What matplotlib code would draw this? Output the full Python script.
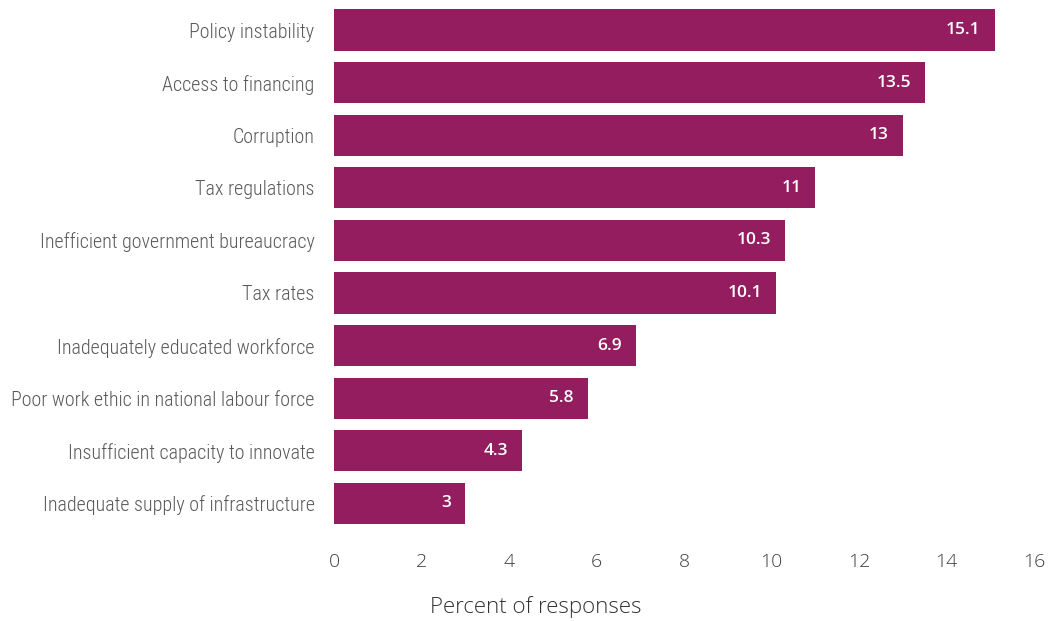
import matplotlib
matplotlib.use("Agg")
import matplotlib.pyplot as plt
from matplotlib import font_manager

categories = [
    "Policy instability",
    "Access to financing",
    "Corruption",
    "Tax regulations",
    "Inefficient government bureaucracy",
    "Tax rates",
    "Inadequately educated workforce",
    "Poor work ethic in national labour force",
    "Insufficient capacity to innovate",
    "Inadequate supply of infrastructure",
]
values = [15.1, 13.5, 13, 11, 10.3, 10.1, 6.9, 5.8, 4.3, 3]
value_labels = ["15.1", "13.5", "13", "11", "10.3", "10.1", "6.9", "5.8", "4.3", "3"]
xticks = [0, 2, 4, 6, 8, 10, 12, 14, 16]

BAR = "#931D5E"
GRAY = "#58595B"

avail = {f.name for f in font_manager.fontManager.ttflist}
cond_candidates = ["Roboto Condensed", "Liberation Sans Narrow", "DejaVu Sans Condensed", "Roboto", "DejaVu Sans"]
cond = [c for c in cond_candidates if c in avail] or ["DejaVu Sans"]
sans = ["Open Sans", "DejaVu Sans"]

W, H = 1051, 621
fig = plt.figure(figsize=(W / 100, H / 100), dpi=100)
left, right = 334 / W, 1034 / W
bottom, top = (H - 529.7) / H, (H - 3.7) / H
ax = fig.add_axes([left, bottom, right - left, top - bottom])

y = list(range(len(categories)))
ax.barh(y, values, height=0.78, color=BAR)
ax.set_xlim(0, 16)
ax.set_ylim(len(categories) - 0.5, -0.5)

for yi, v, lab in zip(y, values, value_labels):
    ax.annotate(lab, xy=(v, yi), xytext=(-10, 0), textcoords="offset points",
                ha="right", va="center", color="white", fontsize=12.5,
                family=sans, fontweight="semibold")

ax.set_yticks(y)
ax.set_yticklabels(categories, fontsize=14.4, color=GRAY,
                   family=cond, fontweight="light", fontstretch="condensed")
ax.set_xticks(xticks)
ax.set_xticklabels([str(t) for t in xticks], fontsize=14, color="#3f3f3f",
                   family=sans, fontweight="light")
ax.tick_params(axis="y", length=0, pad=14)
ax.tick_params(axis="x", length=0, pad=17)
for s in ax.spines.values():
    s.set_visible(False)

fig.text(536 / W, 1 - 607 / H, "Percent of responses", ha="center", va="center",
         fontsize=16, color="#333333", family=sans, fontweight="light")

fig.savefig("out.png", dpi=100)
